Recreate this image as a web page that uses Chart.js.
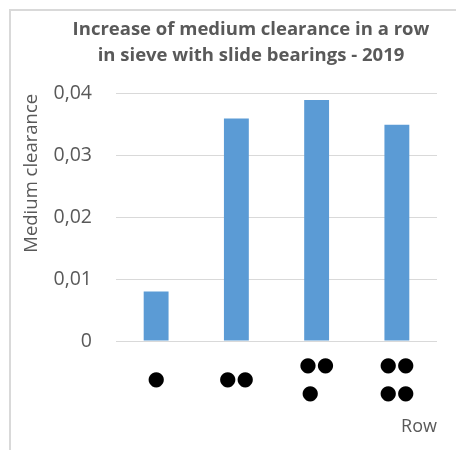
<!DOCTYPE html>
<html>
<head>
<meta charset="utf-8">
<script src="https://cdn.jsdelivr.net/npm/chart.js@4"></script>
<style>
  html, body { margin: 0; padding: 0; background: #ffffff; }
  #wrap { position: relative; width: 456px; height: 450px; overflow: hidden; }
  #frame { position: absolute; left: 9px; top: 9px; width: 460px; height: 460px;
           border-top: 2px solid #d9d9d9; border-left: 2px solid #d9d9d9; }
  canvas { position: absolute; left: 0; top: 0; }
</style>
</head>
<body>
<div id="wrap">
  <div id="frame"></div>
  <canvas id="c" width="456" height="450"></canvas>
</div>
<script>
// Categories: number of sieve bearings in a row, shown as dot patterns
const categories = [
  ["●"],
  ["●●"],
  ["●●", "●\u2007"],
  ["●●", "●●"]
];
const clearanceValues = [0.008, 0.036, 0.039, 0.035];
const yTicks = [0, 0.01, 0.02, 0.03, 0.04];
const titleLines = ["Increase of medium clearance in a row", "in sieve with slide bearings - 2019"];
const yAxisTitle = "Medium clearance";
const xAxisTitle = "Row";

const textColor = "#595959";

const titleShift = {
  id: 'titleShift',
  afterLayout(chart) {
    if (chart.titleBlock) {
      chart.titleBlock.left = 46;
      chart.titleBlock.right = 456;
    }
  }
};

new Chart(document.getElementById('c'), {
  type: 'bar',
  data: {
    labels: categories,
    datasets: [{
      data: clearanceValues,
      backgroundColor: '#5B9BD5',
      borderWidth: 0,
      barPercentage: 0.31,
      categoryPercentage: 1.0
    }]
  },
  options: {
    responsive: false,
    animation: false,
    devicePixelRatio: 1,
    layout: { padding: { left: 21, right: 19, top: 0, bottom: 12 } },
    plugins: {
      legend: { display: false },
      tooltip: { enabled: false },
      title: {
        display: true,
        text: titleLines,
        color: textColor,
        font: { family: "'Open Sans'", size: 18.5, weight: 'bold', lineHeight: 1.4 },
        padding: { top: 17, bottom: 25 }
      }
    },
    scales: {
      x: {
        grid: { display: false, drawTicks: false },
        border: { display: false },
        afterFit(scale) { scale.height = 97; },
        ticks: {
          color: '#000000',
          font: { family: "'DejaVu Sans'", size: 20, lineHeight: 1.4 },
          maxRotation: 0,
          minRotation: 0,
          autoSkip: false,
          crossAlign: 'center',
          padding: 25
        },
        title: {
          display: true,
          text: xAxisTitle,
          align: 'end',
          color: textColor,
          font: { family: "'Open Sans'", size: 18, lineHeight: 1.2 },
          padding: { top: 0, bottom: 0 }
        }
      },
      y: {
        min: 0,
        max: 0.04,
        afterBuildTicks(scale) {
          scale.ticks = yTicks.map(v => ({ value: v }));
        },
        afterFit(scale) { scale.width = 95; },
        grid: { color: '#d9d9d9', lineWidth: 1, drawTicks: false },
        border: { display: false },
        ticks: {
          color: textColor,
          font: { family: "'Open Sans'", size: 19.5 },
          padding: 24,
          callback: (v) => v === 0 ? '0' : Number(v).toFixed(2).replace('.', ',')
        },
        title: {
          display: true,
          text: yAxisTitle,
          align: 'end',
          color: textColor,
          font: { family: "'Open Sans'", size: 18.5, lineHeight: 1.2 },
          padding: { top: 0, bottom: 7 }
        }
      }
    }
  },
  plugins: [titleShift]
});
</script>
</body>
</html>
